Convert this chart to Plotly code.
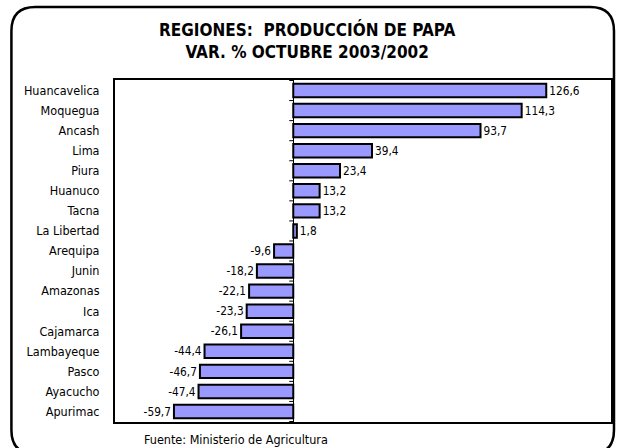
import plotly.graph_objects as go

regions = ["Huancavelica", "Moquegua", "Ancash", "Lima", "Piura", "Huanuco", "Tacna",
           "La Libertad", "Arequipa", "Junin", "Amazonas", "Ica", "Cajamarca",
           "Lambayeque", "Pasco", "Ayacucho", "Apurimac"]
var_pct = [126.6, 114.3, 93.7, 39.4, 23.4, 13.2, 13.2, 1.8, -9.6, -18.2, -22.1,
           -23.3, -26.1, -44.4, -46.7, -47.4, -59.7]
labels = [f"{v:.1f}".replace(".", ",") for v in var_pct]

FONT = "Liberation Sans Narrow, Arial Narrow, DejaVu Sans Condensed, sans-serif"
W, H = 618, 448
L, R, T, B = 115, 5, 80, 26
pw, ph = W - L - R, H - T - B

fig = go.Figure(go.Bar(
    x=var_pct, y=regions, orientation="h",
    marker=dict(color="#9999FF", line=dict(color="black", width=2)),
    text=labels, textposition="outside", cliponaxis=False,
    textfont=dict(family=FONT, size=14, color="black"),
))

# small tick marks on the zero line at category boundaries
shapes = []
for i in range(len(regions) + 1):
    shapes.append(dict(type="line", xref="x", yref="y", x0=-2.0, x1=0.3,
                       y0=i - 0.5, y1=i - 0.5, line=dict(color="black", width=1)))

# outer rounded frame (paper coordinates from pixel positions)
def px(x):
    return (x - L) / pw

def py(y):
    return (H - B - y) / ph

x0, x1, y0, y1, r = 11, 616, 7, 454, 24
path = (f"M {px(x0 + r)} {py(y0)} L {px(x1 - r)} {py(y0)} "
        f"Q {px(x1)} {py(y0)} {px(x1)} {py(y0 + r)} "
        f"L {px(x1)} {py(y1 - r)} Q {px(x1)} {py(y1)} {px(x1 - r)} {py(y1)} "
        f"L {px(x0 + r)} {py(y1)} Q {px(x0)} {py(y1)} {px(x0)} {py(y1 - r)} "
        f"L {px(x0)} {py(y0 + r)} Q {px(x0)} {py(y0)} {px(x0 + r)} {py(y0)} Z")
shapes.append(dict(type="path", xref="paper", yref="paper", path=path,
                   line=dict(color="black", width=2.5), layer="above"))

fig.update_layout(
    width=W, height=H,
    margin=dict(l=L, r=R, t=T, b=B),
    paper_bgcolor="white", plot_bgcolor="white",
    bargap=0.33, showlegend=False,
    shapes=shapes,
    font=dict(family=FONT, color="black"),
    annotations=[
        dict(text="<b>REGIONES:  PRODUCCIÓN DE PAPA</b><br><b>VAR. % OCTUBRE 2003/2002</b>",
             xref="paper", yref="paper", x=px(308), y=py(40), xanchor="center",
             yanchor="middle", showarrow=False,
             font=dict(family=FONT, size=17, color="black")),
        dict(text="Fuente: Ministerio de Agricultura", xref="paper", yref="paper",
             x=px(142), y=py(439), xanchor="left", yanchor="middle", showarrow=False,
             font=dict(family=FONT, size=12.5, color="black")),
    ],
)
fig.update_xaxes(range=[-89.2, 159.0], showticklabels=False, ticks="", showgrid=False,
                 zeroline=True, zerolinecolor="black", zerolinewidth=1,
                 showline=True, linecolor="black", linewidth=2, mirror=True)
fig.update_yaxes(autorange="reversed", showgrid=False, ticks="", ticklabelstandoff=11,
                 tickfont=dict(family=FONT, size=12.5, color="black"),
                 showline=True, linecolor="black", linewidth=2, mirror=True)

fig.write_html("out.html", config={"displayModeBar": False},
               post_script="document.body.style.margin='0';document.body.style.overflow='hidden';")
